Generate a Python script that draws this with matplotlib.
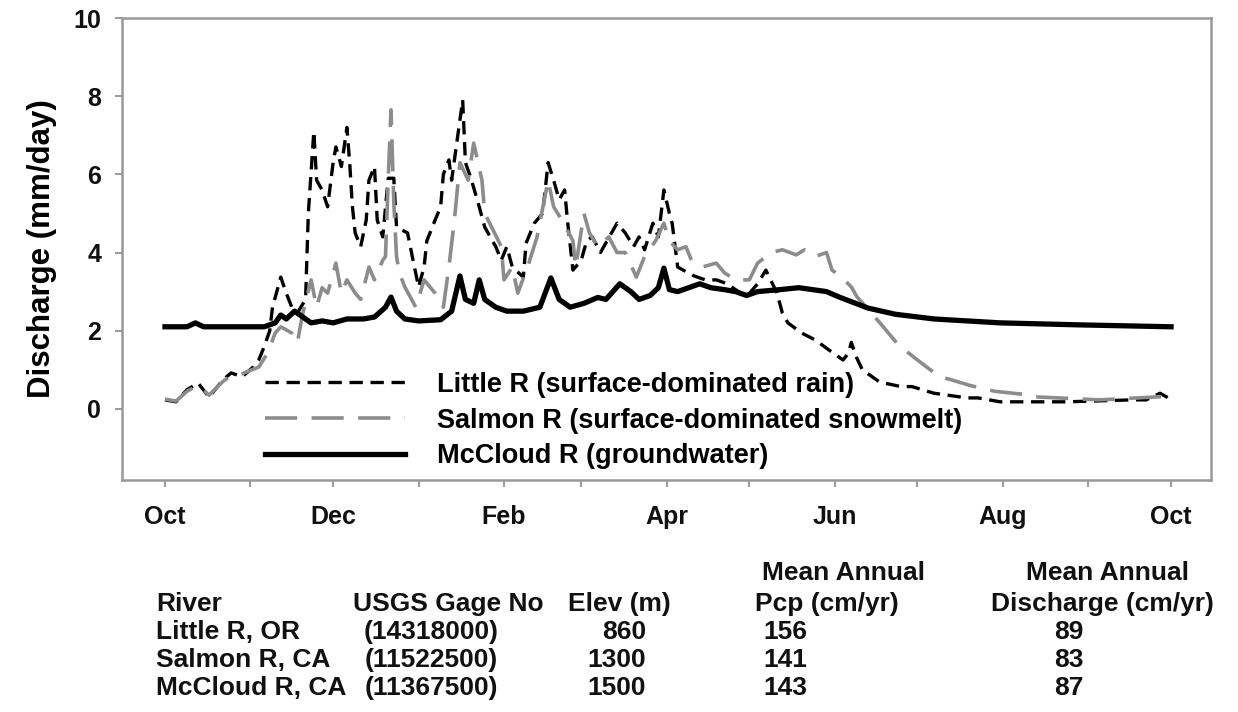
import matplotlib.pyplot as plt

plt.rcParams['font.family'] = ['Liberation Sans', 'DejaVu Sans']
plt.rcParams['font.weight'] = 'bold'

# day of water year (0 = Oct 1) and discharge (mm/day)
little_days = [0, 4, 8, 12, 16, 21, 24, 28, 32, 34, 36, 38, 39, 42, 44, 46, 48, 51, 52, 54,
               55, 57, 59, 61, 62, 64, 66, 67, 68, 69, 71, 73, 74, 76, 77, 79, 81, 83, 84, 88,
               90, 92, 94, 95, 98, 100, 101, 103, 104, 106, 108, 109, 111, 114, 116, 120, 122, 124, 126, 130,
               131, 134, 137, 139, 141, 143, 145, 146, 148, 151, 153, 155, 158, 162, 164, 167, 170, 172, 174, 177,
               179, 181, 183, 184, 186, 188, 192, 196, 200, 204, 208, 211, 215, 218, 222, 224, 226, 231, 236, 241,
               246, 248, 249, 251, 253, 259, 261, 267, 271, 279, 283, 291, 295, 303, 319, 327, 351, 356, 361, 364, 365]
little_q = [0.23, 0.18, 0.49, 0.66, 0.30, 0.74, 0.92, 0.82, 1.07, 1.25, 1.59, 2.0, 2.6, 3.37, 2.96, 2.6, 2.45, 2.8, 5.0, 7.1,
            5.85, 5.6, 5.17, 6.3, 6.7, 6.2, 7.2, 6.3, 5.17, 4.5, 4.15, 4.83, 5.85, 6.2, 4.83, 4.4, 5.9, 5.9, 4.65, 4.5,
            3.8, 3.12, 3.63, 4.3, 4.83, 5.17, 6.0, 6.37, 5.85, 6.88, 7.9, 6.3, 5.9, 5.17, 4.65, 4.15, 3.8, 4.15, 3.63, 3.37,
            4.24, 4.75, 5.0, 6.3, 5.85, 5.35, 5.6, 4.83, 3.55, 3.8, 4.3, 4.4, 4.0, 4.5, 4.75, 4.5, 4.15, 4.4, 4.07, 4.75,
            4.4, 5.6, 5.0, 4.75, 3.63, 3.55, 3.4, 3.3, 3.3, 3.2, 3.0, 2.87, 3.2, 3.55, 2.97, 2.45, 2.2, 1.94, 1.76, 1.5,
            1.25, 1.43, 1.7, 1.3, 1.0, 0.7, 0.66, 0.57, 0.57, 0.4, 0.36, 0.28, 0.28, 0.18, 0.18, 0.18, 0.23, 0.23, 0.4, 0.28, 0.28]

salmon_days = [0, 4, 8, 12, 16, 21, 24, 28, 34, 37, 40, 42, 46, 48, 50, 53, 55, 57, 59, 62,
               64, 66, 69, 71, 74, 76, 79, 80, 81, 82, 83, 84, 85, 87, 91, 94, 98, 101, 103, 105,
               107, 110, 112, 115, 116, 119, 122, 123, 126, 128, 132, 135, 139, 141, 144, 148, 149, 152, 154, 157,
               161, 164, 167, 171, 174, 178, 181, 183, 186, 189, 191, 195, 200, 203, 207, 212, 215, 220, 224, 229,
               232, 236, 240, 242, 245, 249, 251, 260, 266, 273, 281, 285, 292, 301, 313, 315, 339, 361, 364, 365]
salmon_q = [0.25, 0.2, 0.45, 0.6, 0.35, 0.7, 0.85, 0.9, 1.07, 1.4, 1.94, 2.1, 1.94, 1.69, 2.45, 3.3, 2.6, 3.1, 2.96, 3.73,
            2.96, 3.3, 2.96, 2.8, 3.63, 3.3, 3.8, 3.9, 5.9, 7.65, 5.3, 3.9, 3.48, 3.12, 2.6, 3.3, 2.96, 2.6, 3.63, 4.83,
            6.3, 5.85, 6.8, 5.85, 5.0, 4.58, 4.15, 3.3, 3.63, 2.96, 3.73, 4.4, 5.85, 5.17, 4.83, 4.3, 3.63, 5.0, 4.5, 4.15,
            4.4, 4.0, 4.0, 3.37, 3.9, 4.3, 4.75, 4.3, 4.07, 4.15, 3.8, 3.63, 3.73, 3.48, 3.3, 3.3, 3.73, 4.0, 4.07, 3.94,
            4.07, 3.9, 4.0, 3.55, 3.4, 3.12, 2.87, 2.15, 1.64, 1.25, 0.82, 0.75, 0.6, 0.45, 0.36, 0.31, 0.23, 0.31, 0.23, 0.23]

mccloud_days = [0, 8, 11, 14, 36, 40, 42, 44, 47, 50, 53, 57, 61, 66, 72, 76, 80, 82, 84, 87,
                92, 100, 104, 107, 109, 112, 114, 116, 120, 124, 130, 136, 140, 143, 147, 152, 157, 160, 165, 169,
                172, 176, 179, 181, 183, 186, 190, 194, 198, 203, 207, 211, 215, 223, 230, 240, 245, 255, 265, 279,
                303, 331, 365]
mccloud_q = [2.1, 2.1, 2.2, 2.1, 2.1, 2.2, 2.4, 2.3, 2.5, 2.35, 2.2, 2.25, 2.2, 2.3, 2.3, 2.35, 2.6, 2.86, 2.5, 2.3,
             2.25, 2.28, 2.5, 3.4, 2.8, 2.7, 3.3, 2.8, 2.6, 2.5, 2.5, 2.6, 3.35, 2.8, 2.6, 2.7, 2.85, 2.8, 3.2, 3.0,
             2.8, 2.9, 3.1, 3.6, 3.05, 3.0, 3.1, 3.2, 3.1, 3.05, 3.0, 2.9, 3.0, 3.05, 3.1, 3.0, 2.85, 2.58, 2.42, 2.3,
             2.2, 2.15, 2.1]

month_days = [0, 31, 61, 92, 123, 151, 182, 212, 243, 273, 304, 335, 365]
month_labels = ['Oct', '', 'Dec', '', 'Feb', '', 'Apr', '', 'Jun', '', 'Aug', '', 'Oct']

rivers = ['Little R, OR', 'Salmon R, CA', 'McCloud R, CA']
gage_no = ['(14318000)', '(11522500)', '(11367500)']
elev_m = [860, 1300, 1500]
pcp_cm = [156, 141, 143]
discharge_cm = [89, 83, 87]

W, H = 1238, 712
fig = plt.figure(figsize=(W / 100, H / 100), dpi=100)
ax = fig.add_axes([122 / W, 1 - 480 / H, (1211 - 122) / W, (480 - 18) / H])

ax.plot(little_days, little_q, color='black', lw=2.4, dashes=(4, 2.3),
        label='Little R (surface-dominated rain)')
ax.plot(salmon_days, salmon_q, color='#8c8c8c', lw=2.6, dashes=(8.9, 4.0),
        label='Salmon R (surface-dominated snowmelt)')
ax.plot(mccloud_days, mccloud_q, color='black', lw=3.8,
        label='McCloud R (groundwater)')

ax.set_xlim(-15.6, 379.5)
ax.set_ylim(-1.82, 10)
ax.set_yticks([0, 2, 4, 6, 8, 10])
ax.set_xticks(month_days)
ax.set_xticklabels(month_labels)
ax.tick_params(axis='both', direction='out', length=5, width=1.2, color='#888888',
               labelsize=18, pad=10, labelcolor='#111111')
ax.tick_params(axis='x', pad=13)
for s in ax.spines.values():
    s.set_color('#999999')
    s.set_linewidth(1.8)

ax.set_ylabel('Discharge (mm/day)', fontsize=22.5, fontweight='bold', labelpad=12)

ax.legend(loc='upper left', bbox_to_anchor=(0.131, 0.234), frameon=False, fontsize=19.5,
          handlelength=5.2, handletextpad=1.16, labelspacing=0.36, borderpad=0, borderaxespad=0)

# table under the chart
fs = 19
def put(x, y, s, ha='left'):
    fig.text(x / W, 1 - y / H, s, ha=ha, va='center', fontsize=fs, fontweight='bold', color='#111111')

put(844, 573, 'Mean Annual', 'center')
put(1107, 573, 'Mean Annual', 'center')
put(156, 604, 'River')
put(353, 604, 'USGS Gage No')
put(568, 604, 'Elev (m)')
put(755, 604, 'Pcp (cm/yr)')
put(1102, 604, 'Discharge (cm/yr)', 'center')
for i, y in enumerate([632, 660, 688]):
    put(156, y, rivers[i])
    put(431, y, gage_no[i], 'center')
    put(646, y, str(elev_m[i]), 'right')
    put(763, y, str(pcp_cm[i]))
    put(1069, y, str(discharge_cm[i]), 'center')

fig.savefig('out.png', dpi=100)
